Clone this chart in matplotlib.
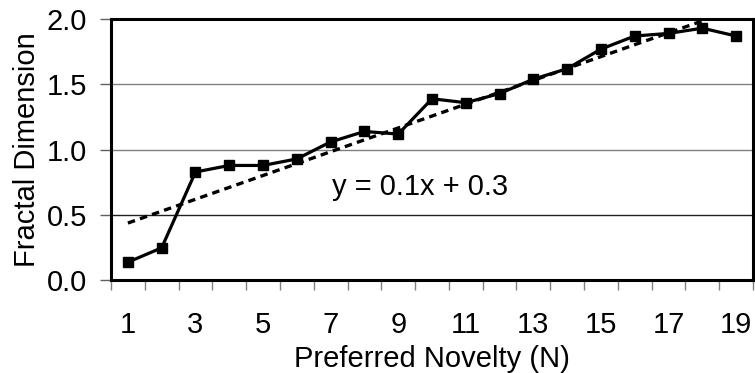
import numpy as np
import matplotlib
matplotlib.use("Agg")
import matplotlib.pyplot as plt

plt.rcParams['font.family'] = ['Liberation Sans', 'DejaVu Sans']
plt.rcParams['lines.scale_dashes'] = False

# Data
novelty = list(range(1, 20))
fractal_dim = [0.14, 0.25, 0.83, 0.88, 0.88, 0.93, 1.06, 1.14, 1.12, 1.39,
               1.36, 1.43, 1.54, 1.62, 1.77, 1.87, 1.89, 1.93, 1.87]
x_tick_labels = [str(n) for n in range(1, 20, 2)]
y_ticks = [0.0, 0.5, 1.0, 1.5, 2.0]
equation_label = "y = 0.1x + 0.3"

FS = 21

fig = plt.figure(figsize=(7.55, 3.73), dpi=100)
ax = fig.add_axes([0.147, 0.248, 0.8504, 0.701])

# Linear trend line (least squares over all points)
slope, intercept = np.polyfit(novelty, fractal_dim, 1)
xt = np.array([novelty[0], novelty[-1]], dtype=float)
ax.plot(xt, slope * xt + intercept, color='black', lw=2.4,
        dashes=(5.4, 3.8), zorder=2)

# Measured series
ax.plot(novelty, fractal_dim, color='black', lw=2.3, marker='s',
        markersize=7.2, zorder=3)

ax.set_xlim(0.5, 19.5)
ax.set_ylim(0, 2.0)

# Horizontal gridlines
for yv, col in [(0.5, '#202020'), (1.0, '#808080'), (1.5, '#808080')]:
    ax.axhline(yv, color=col, lw=1.0, zorder=1)

# Category-style axis: ticks between categories, labels on odd categories
ax.set_xticks(np.arange(0.5, 20.0, 1.0))
ax.set_xticklabels([])
ax.set_xticks(list(range(1, 20, 2)), minor=True)
ax.set_xticklabels(x_tick_labels, minor=True)
ax.tick_params(axis='x', which='major', direction='out', length=7,
               width=1, color='#808080')
ax.tick_params(axis='x', which='minor', length=0, pad=22, labelsize=FS)

ax.set_yticks(y_ticks)
ax.set_yticklabels([f"{v:.1f}" for v in y_ticks])
ax.tick_params(axis='y', direction='out', length=8, width=1,
               color='#606060', pad=9, labelsize=FS)

for sp in ax.spines.values():
    sp.set_color('black')
    sp.set_linewidth(2.2)

ax.set_xlabel("Preferred Novelty (N)", fontsize=FS, labelpad=4)
ax.set_ylabel("Fractal Dimension", fontsize=FS, labelpad=4)

ax.text(7.04, 0.655, equation_label, fontsize=FS, ha='left', va='baseline')

fig.savefig("out.png", dpi=100)
